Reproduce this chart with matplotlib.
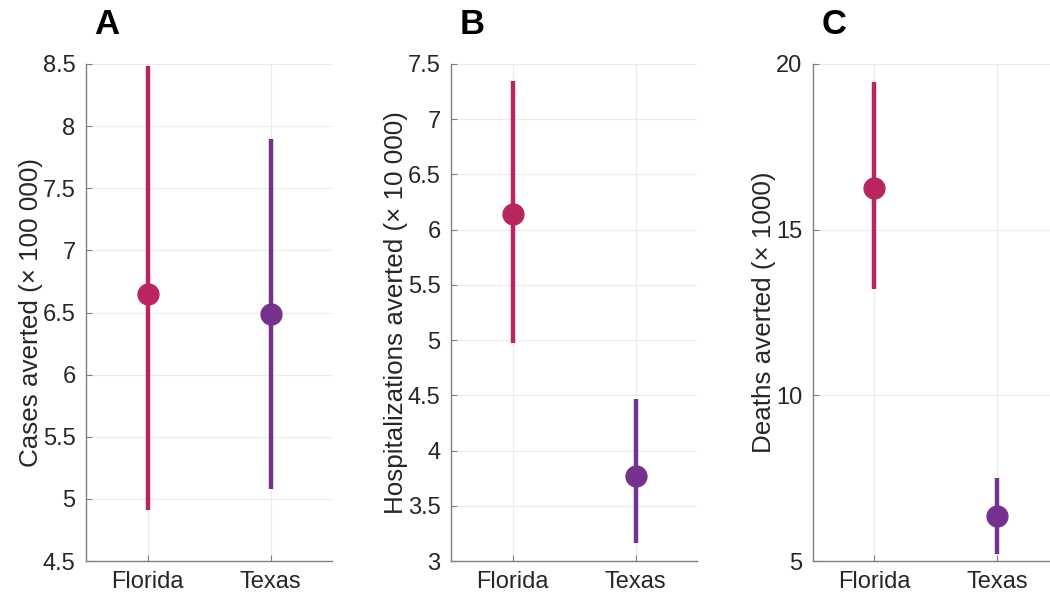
import numpy as np
import matplotlib
matplotlib.use('Agg')
import matplotlib.pyplot as plt

plt.rcParams['font.family'] = ['Liberation Sans', 'DejaVu Sans']

# --- data ---
states = ["Florida", "Texas"]
state_colors = ["#BA2560", "#74318E"]

cases_mid = [6.65, 6.49]
cases_lo = [4.91, 5.08]
cases_hi = [8.48, 7.90]

hosp_mid = [6.14, 3.77]
hosp_lo = [4.97, 3.16]
hosp_hi = [7.35, 4.47]

deaths_mid = [16.25, 6.37]
deaths_lo = [13.22, 5.22]
deaths_hi = [19.45, 7.50]

panels = [
    ("A", "Cases averted (\u00d7 100 000)", cases_mid, cases_lo, cases_hi,
     (4.5, 8.5), [4.5, 5, 5.5, 6, 6.5, 7, 7.5, 8, 8.5]),
    ("B", "Hospitalizations averted (\u00d7 10 000)", hosp_mid, hosp_lo, hosp_hi,
     (3, 7.5), [3, 3.5, 4, 4.5, 5, 5.5, 6, 6.5, 7, 7.5]),
    ("C", "Deaths averted (\u00d7 1000)", deaths_mid, deaths_lo, deaths_hi,
     (5, 20), [5, 10, 15, 20]),
]

W, H = 1050, 599
fig = plt.figure(figsize=(W / 100, H / 100), dpi=100)

lefts = [86, 451, 813]
ax_w = 246
top, bottom = 64, 561

for (letter, ylab, mid, lo, hi, ylim, yticks), left in zip(panels, lefts):
    ax = fig.add_axes([left / W, 1 - bottom / H, ax_w / W, (bottom - top) / H])
    x = np.arange(1, len(states) + 1)
    for i in range(len(states)):
        ax.plot([x[i], x[i]], [lo[i], hi[i]], color=state_colors[i], lw=3.2,
                solid_capstyle='butt', zorder=3)
        ax.plot(x[i], mid[i], 'o', color=state_colors[i], ms=15, zorder=4)
    ax.set_xlim(0.5, 2.5)
    ax.set_ylim(*ylim)
    ax.set_xticks(x)
    ax.set_xticklabels(states)
    ax.set_yticks(yticks)
    ax.set_yticklabels([f"{t:g}" for t in yticks])
    ax.grid(True, color="#EBEBEB", lw=0.8)
    ax.set_axisbelow(True)
    for s in ['top', 'right']:
        ax.spines[s].set_visible(False)
    for s in ['left', 'bottom']:
        ax.spines[s].set_color("#808080")
        ax.spines[s].set_linewidth(1.0)
    ax.tick_params(direction='in', length=4, color="#808080", labelsize=17,
                   labelcolor="#262626", pad=7.5)
    ax.set_ylabel(ylab, fontsize=18.7, color="#262626", labelpad=0)
    fig.text((left + 21) / W, 1 - 25 / H, letter, fontsize=25, fontweight='bold',
             ha='center', va='center')

fig.savefig("out.png", dpi=100)
